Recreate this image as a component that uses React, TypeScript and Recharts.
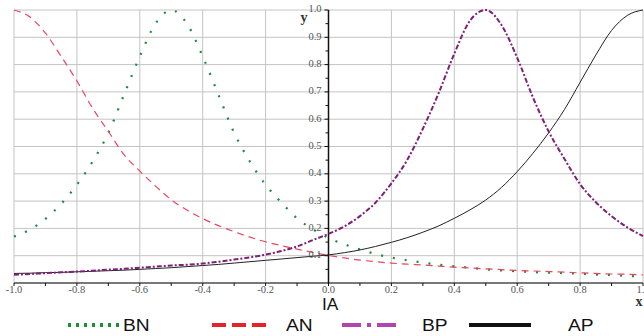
import React from 'react';
import {
  ComposedChart,
  Line,
  XAxis,
  YAxis,
  CartesianGrid,
  ReferenceLine,
  ReferenceDot,
} from 'recharts';

// IA values along the x axis
const xValues = [
  -1, -0.95, -0.9, -0.85, -0.8, -0.75, -0.7, -0.65, -0.6, -0.55, -0.5, -0.45, -0.4, -0.35, -0.3,
  -0.25, -0.2, -0.15, -0.1, -0.05, 0, 0.05, 0.1, 0.15, 0.2, 0.25, 0.3, 0.35, 0.4, 0.45, 0.5, 0.55,
  0.6, 0.65, 0.7, 0.75, 0.8, 0.85, 0.9, 0.95, 1,
];

const bnValues = [
  0.17, 0.195, 0.235, 0.29, 0.36, 0.445, 0.55, 0.69, 0.83, 0.95, 1.0, 0.95, 0.83, 0.69, 0.55,
  0.445, 0.36, 0.295, 0.237, 0.197, 0.165, 0.142, 0.123, 0.106, 0.093, 0.083, 0.075, 0.067, 0.061,
  0.056, 0.05, 0.046, 0.043, 0.04, 0.038, 0.036, 0.034, 0.031, 0.029, 0.026, 0.023,
];

const anValues = [
  1.0, 0.975, 0.915, 0.83, 0.74, 0.64, 0.555, 0.47, 0.41, 0.355, 0.305, 0.267, 0.236, 0.21, 0.188,
  0.168, 0.151, 0.137, 0.124, 0.112, 0.101, 0.092, 0.084, 0.078, 0.073, 0.069, 0.066, 0.062, 0.058,
  0.055, 0.052, 0.049, 0.046, 0.044, 0.042, 0.04, 0.037, 0.035, 0.033, 0.032, 0.03,
];

const bpValues = [
  0.03, 0.033, 0.036, 0.039, 0.042, 0.045, 0.049, 0.052, 0.056, 0.06, 0.064, 0.067, 0.071, 0.078,
  0.086, 0.094, 0.104, 0.117, 0.134, 0.157, 0.18, 0.207, 0.245, 0.295, 0.365, 0.45, 0.565, 0.695,
  0.84, 0.961, 1.0, 0.945, 0.825, 0.68, 0.555, 0.455, 0.362, 0.296, 0.245, 0.204, 0.172,
];

const apValues = [
  0.035, 0.036, 0.038, 0.039, 0.041, 0.043, 0.045, 0.047, 0.05, 0.053, 0.056, 0.06, 0.064, 0.068,
  0.073, 0.078, 0.083, 0.088, 0.093, 0.098, 0.103, 0.111, 0.121, 0.134, 0.149, 0.166, 0.186, 0.209,
  0.237, 0.268, 0.304, 0.35, 0.408, 0.475, 0.55, 0.635, 0.735, 0.835, 0.925, 0.98, 1.0,
];

const xTicks = [
  -1, -0.9, -0.8, -0.7, -0.6, -0.5, -0.4, -0.3, -0.2, -0.1, 0, 0.1, 0.2, 0.3, 0.4, 0.5, 0.6, 0.7,
  0.8, 0.9, 1,
];
const gridX = [-1, -0.8, -0.6, -0.4, -0.2, 0, 0.2, 0.4, 0.6, 0.8, 1];
const yTicks = [0, 0.1, 0.2, 0.3, 0.4, 0.5, 0.6, 0.7, 0.8, 0.9, 1];
const yMinorTicks = [0.05, 0.15, 0.25, 0.35, 0.45, 0.55, 0.65, 0.75, 0.85, 0.95];

const chartData = xValues.map((x, i) => ({
  x,
  bn: bnValues[i],
  an: anValues[i],
  bp: bpValues[i],
  ap: apValues[i],
}));

const tickFont = { fontFamily: 'Liberation Serif', fontSize: 10.5, fill: '#555' };

const legendItems = [
  { name: 'BN', color: '#1e8a3c', dash: '3 5', lineLeft: 68, lineLen: 51, textLeft: 123 },
  { name: 'AN', color: '#e3242f', dash: '14 6', lineLeft: 212, lineLen: 55, textLeft: 286 },
  { name: 'BP', color: '#b045b0', dash: '19 6 4 6', lineLeft: 342, lineLen: 58, textLeft: 422 },
  { name: 'AP', color: '#111', dash: undefined, lineLeft: 469, lineLen: 62, textLeft: 568 },
];

function YTickMark({ cx, cy, label }: { cx?: number; cy?: number; label?: string }) {
  if (cx == null || cy == null) return null;
  return (
    <g>
      <line x1={cx - (label ? 4 : 3)} y1={cy} x2={cx} y2={cy} stroke="#111" strokeWidth={1} />
      {label && (
        <text x={cx - 7} y={cy} textAnchor="end" dominantBaseline="middle" {...tickFont}>
          {label}
        </text>
      )}
    </g>
  );
}

export default function App() {
  return (
    <div style={{ position: 'absolute', left: 0, top: 0, width: 644, height: 336, background: '#fff', overflow: 'hidden' }}>
      <ComposedChart
        width={644}
        height={336}
        data={chartData}
        margin={{ top: 10, right: 1, left: 14, bottom: 33 }}
      >
        <XAxis xAxisId="grid" type="number" dataKey="x" domain={[-1, 1]} ticks={gridX} hide />
        <YAxis type="number" domain={[0, 1]} ticks={yTicks} hide />
        <CartesianGrid xAxisId="grid" stroke="#c4c4c4" strokeWidth={1} />

        <XAxis
          type="number"
          dataKey="x"
          domain={[-1, 1]}
          ticks={xTicks}
          interval={0}
          height={20}
          axisLine={{ stroke: '#111', strokeWidth: 1.2 }}
          tickLine={{ stroke: '#111' }}
          tickSize={3}
          tickMargin={0}
          tick={tickFont}
          tickFormatter={(v: number) => (Math.abs(Math.round(v * 10)) % 2 === 0 ? v.toFixed(1) : '')}
        />

        <ReferenceLine x={0} stroke="#111" strokeWidth={1.5} />
        {yTicks.slice(1).map((v) => (
          <ReferenceDot
            key={'y' + v}
            x={0}
            y={v}
            r={0}
            shape={(p: any) => <YTickMark cx={p.cx} cy={p.cy} label={v.toFixed(1)} />}
          />
        ))}
        {yMinorTicks.map((v) => (
          <ReferenceDot
            key={'m' + v}
            x={0}
            y={v}
            r={0}
            shape={(p: any) => <YTickMark cx={p.cx} cy={p.cy} />}
          />
        ))}
        <ReferenceDot
          x={0}
          y={1}
          r={0}
          shape={(p: any) => (
            <text x={p.cx - 28} y={p.cy + 12} fontFamily="Liberation Serif" fontWeight="bold" fontSize={14} fill="#333">
              y
            </text>
          )}
        />
        <ReferenceDot
          x={1}
          y={0}
          r={0}
          shape={(p: any) => (
            <text x={p.cx - 4} y={p.cy + 23} textAnchor="middle" fontFamily="Liberation Serif" fontWeight="bold" fontSize={14} fill="#333">
              x
            </text>
          )}
        />

        <Line
          type="monotone"
          dataKey="bn"
          stroke="#1e8a3c"
          strokeWidth={2.2}
          strokeDasharray="2 10"
          dot={false}
          isAnimationActive={false}
        />
        <Line
          type="monotone"
          dataKey="an"
          stroke="#e8475e"
          strokeWidth={1.2}
          strokeDasharray="7 5"
          dot={false}
          isAnimationActive={false}
        />
        <Line
          type="monotone"
          dataKey="ap"
          stroke="#222"
          strokeWidth={1}
          dot={false}
          isAnimationActive={false}
        />
        <Line
          type="monotone"
          dataKey="bp"
          stroke="#7e1f78"
          strokeWidth={2}
          strokeDasharray="5 2 2 2"
          dot={false}
          isAnimationActive={false}
        />
      </ComposedChart>

      <div
        style={{
          position: 'absolute',
          left: 322,
          top: 295,
          fontFamily: 'Liberation Sans',
          fontSize: 16,
          lineHeight: '20px',
          color: '#111',
          transform: 'scaleX(1.08)',
          transformOrigin: 'left',
        }}
      >
        IA
      </div>

      {legendItems.map((item) => (
        <React.Fragment key={item.name}>
          <svg
            style={{ position: 'absolute', left: item.lineLeft, top: 322 }}
            width={item.lineLen}
            height={6}
          >
            <line
              x1={0}
              y1={3}
              x2={item.lineLen}
              y2={3}
              stroke={item.color}
              strokeWidth={4}
              strokeDasharray={item.dash}
            />
          </svg>
          <div
            style={{
              position: 'absolute',
              left: item.textLeft,
              top: 316,
              fontFamily: 'Liberation Sans',
              fontSize: 16,
              lineHeight: '20px',
              color: '#111',
              transform: 'scaleX(1.2)',
              transformOrigin: 'left',
            }}
          >
            {item.name}
          </div>
        </React.Fragment>
      ))}
    </div>
  );
}
